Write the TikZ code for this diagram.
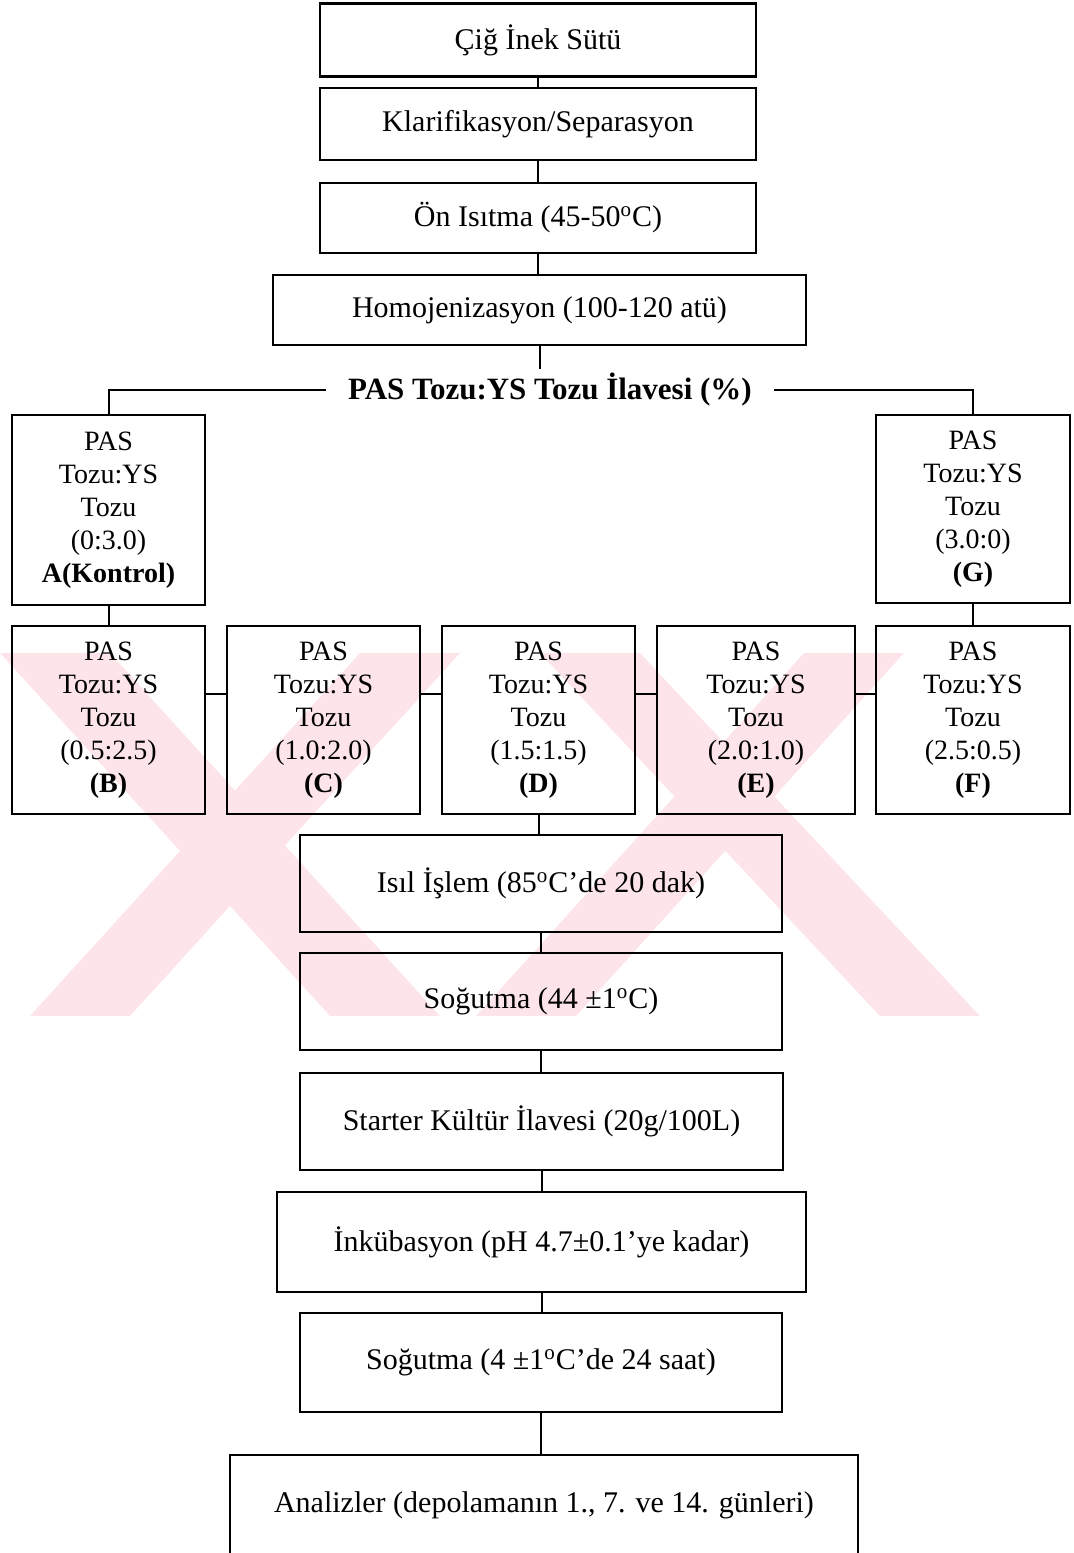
\documentclass[tikz,border=0pt]{standalone}
\usepackage{fontspec}
\setmainfont{Liberation Serif}
\definecolor{wm}{RGB}{252,228,232}
\begin{document}
\begin{tikzpicture}[x=0.5pt,y=-0.5pt,
  box/.style={draw,line width=1.1pt,inner sep=0pt,align=center,font=\fontsize{15}{18}\selectfont},
  grp/.style={draw,line width=1.1pt,inner sep=0pt,align=center,font=\fontsize{14}{16.5}\selectfont,minimum height=94pt},
  conn/.style={line width=1pt}]
\useasboundingbox (0,0) rectangle (1074,1553);
% watermark
\begin{scope}
\clip (0,653) rectangle (1074,1016);
\fill[wm] (0,653) -- (110,653) -- (440,1016) -- (330,1016) -- cycle;
\fill[wm] (30,1016) -- (130,1016) -- (460,653) -- (360,653) -- cycle;
\fill[wm] (540,653) -- (640,653) -- (980,1016) -- (880,1016) -- cycle;
\fill[wm] (476,1016) -- (576,1016) -- (904,653) -- (804,653) -- cycle;
\end{scope}
% main chain
\node[box,minimum width=218pt,minimum height=36.5pt] (n1) at (538,40) {Çiğ İnek Sütü};
\node[box,minimum width=218pt,minimum height=36pt] (n2) at (538,124) {Klarifikasyon/Separasyon};
\node[box,minimum width=218pt,minimum height=35pt] (n3) at (538,218) {Ön Isıtma (45-50\textsuperscript{o}C)};
\node[box,minimum width=266.5pt,minimum height=35pt] (n4) at (539.5,310) {Homojenizasyon (100-120 atü)};
\node[inner xsep=11pt,inner ysep=2pt,font=\fontsize{15.5}{18}\selectfont\bfseries] (hdr) at (550,390) {PAS Tozu:YS Tozu İlavesi (\%)};
% group boxes
\node[grp,minimum width=96.5pt,minimum height=95pt] (A) at (108.5,510) {PAS\\Tozu:YS\\Tozu\\(0:3.0)\\\textbf{A(Kontrol)}};
\node[grp,minimum width=97pt] (G) at (973,509) {PAS\\Tozu:YS\\Tozu\\(3.0:0)\\\textbf{(G)}};
\node[grp,minimum width=96.5pt] (B) at (108.5,720) {PAS\\Tozu:YS\\Tozu\\(0.5:2.5)\\\textbf{(B)}};
\node[grp,minimum width=96.5pt] (C) at (323.5,720) {PAS\\Tozu:YS\\Tozu\\(1.0:2.0)\\\textbf{(C)}};
\node[grp,minimum width=96.5pt] (D) at (538.5,720) {PAS\\Tozu:YS\\Tozu\\(1.5:1.5)\\\textbf{(D)}};
\node[grp,minimum width=99pt] (E) at (756,720) {PAS\\Tozu:YS\\Tozu\\(2.0:1.0)\\\textbf{(E)}};
\node[grp,minimum width=97pt] (F) at (973,720) {PAS\\Tozu:YS\\Tozu\\(2.5:0.5)\\\textbf{(F)}};
% lower chain
\node[box,minimum width=241pt,minimum height=48.5pt] (s1) at (541,883.5) {Isıl İşlem (85\textsuperscript{o}C’de 20 dak)};
\node[box,minimum width=241pt,minimum height=48.5pt] (s2) at (541,1001.5) {Soğutma (44 ±1\textsuperscript{o}C)};
\node[box,minimum width=241.5pt,minimum height=48.5pt] (s3) at (541.5,1121.5) {Starter Kültür İlavesi (20g/100L)};
\node[box,minimum width=264.5pt,minimum height=50pt] (s4) at (541.5,1242) {İnkübasyon (pH 4.7±0.1’ye kadar)};
\node[box,minimum width=241pt,minimum height=49.5pt] (s5) at (541,1362.5) {Soğutma (4 ±1\textsuperscript{o}C’de 24 saat)};
\node[box,minimum width=314pt,minimum height=50pt] (s6) at (544,1505) {Analizler (depolamanın 1., 7. ve 14. günleri)};
% connectors
\draw[conn] (n1) -- (n2);
\draw[conn] (n2) -- (n3);
\draw[conn] (n3.south) -- (n3.south |- n4.north);
\draw[conn] (n4.south) -- (n4.south |- hdr.north);
\draw[conn] (hdr.west) -- (hdr.west -| A.north) -- (A.north);
\draw[conn] (hdr.east) -- (hdr.east -| G.north) -- (G.north);
\draw[conn] (A.south) -- (A.south |- B.north);
\draw[conn] (G.south) -- (G.south |- F.north);
\draw[conn] ([yshift=13pt]B.east) -- ([yshift=13pt]C.west);
\draw[conn] ([yshift=13pt]C.east) -- ([yshift=13pt]D.west);
\draw[conn] ([yshift=13pt]D.east) -- ([yshift=13pt]E.west);
\draw[conn] ([yshift=13pt]E.east) -- ([yshift=13pt]F.west);
\draw[conn] (D.south) -- (D.south |- s1.north);
\draw[conn] (s1) -- (s2);
\draw[conn] (s2.south) -- (s2.south |- s3.north);
\draw[conn] (s3.south) -- (s3.south |- s4.north);
\draw[conn] (s4.south) -- (s4.south |- s5.north);
\draw[conn] (s5.south) -- (s5.south |- s6.north);
\end{tikzpicture}
\end{document}
